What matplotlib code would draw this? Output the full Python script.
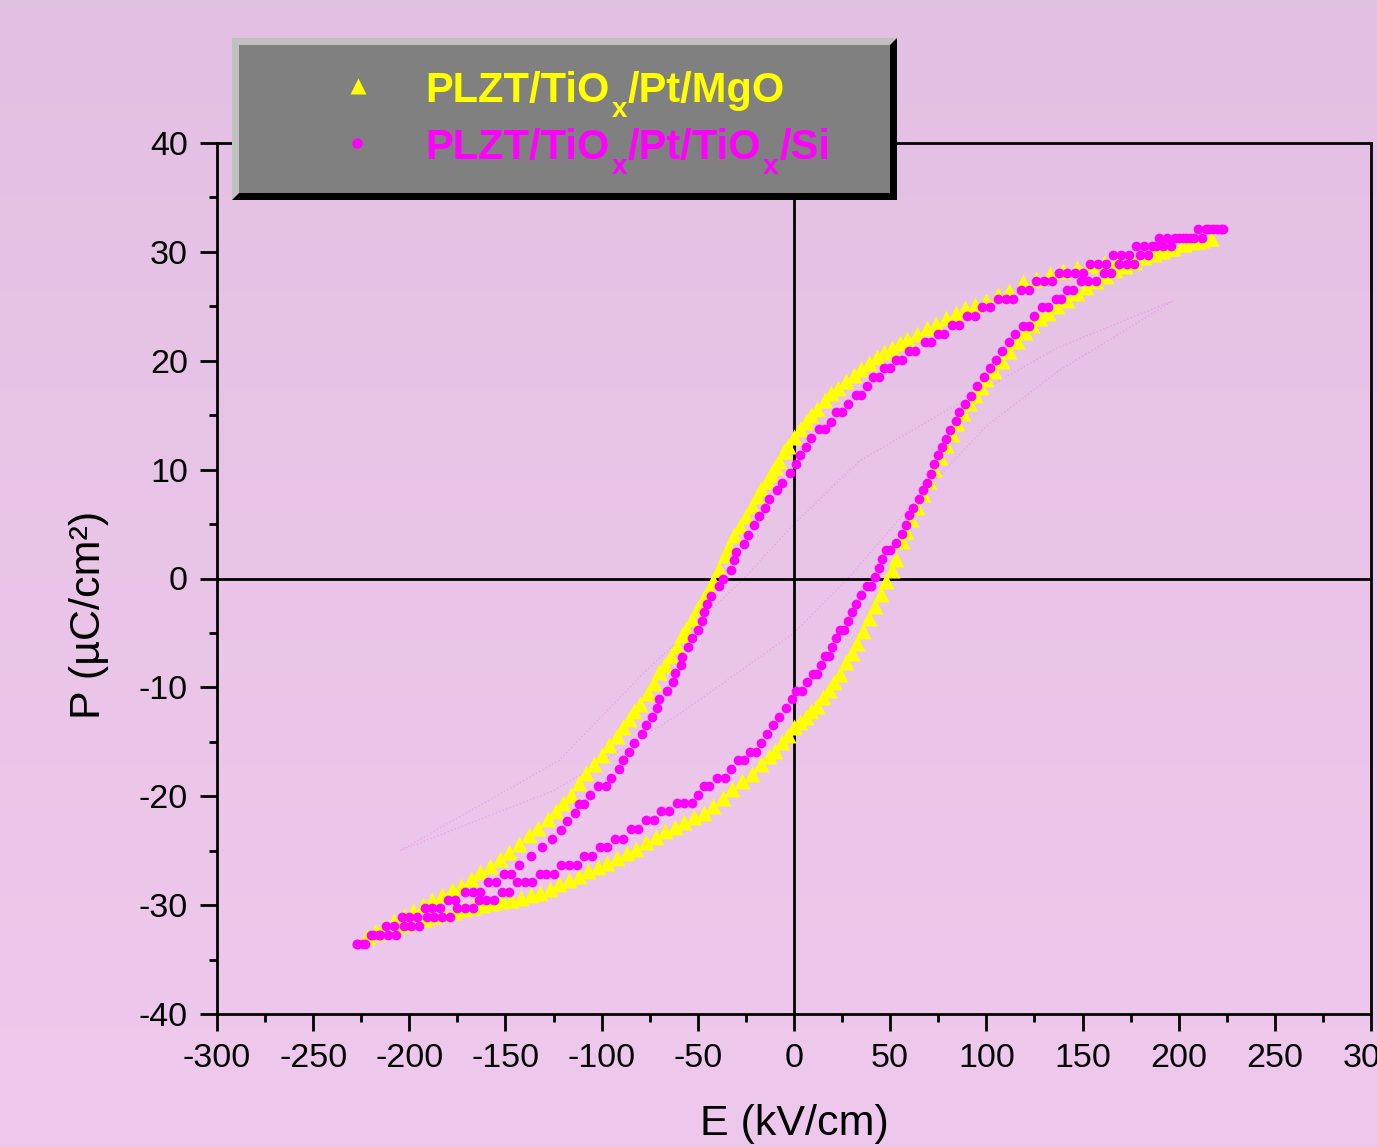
import numpy as np
import matplotlib
matplotlib.use('Agg')
import matplotlib.pyplot as plt
from matplotlib.patches import Polygon, Rectangle
from matplotlib.lines import Line2D

plt.rcParams['font.family'] = ['Liberation Sans', 'DejaVu Sans']
plt.rcParams['axes.unicode_minus'] = False

# PLZT/TiOx/Pt/MgO  (yellow triangles)
mgo_E_up = [-222, -217, -212, -207, -202, -197, -192, -187, -182, -177,
            -172, -167, -162, -157, -152, -147, -142, -137, -132, -127,
            -122, -117, -112, -107, -102, -97, -92, -87, -82, -77,
            -72, -67, -62, -57, -52, -47, -42, -37, -32, -27,
            -22, -17, -13, -10, -6, -3, 0, 3, 6, 9,
            12, 15, 18, 21, 24, 27, 30, 33, 36, 39,
            42, 45, 48, 51, 53, 56, 58, 61, 64, 67,
            70, 73, 76, 79, 82, 85, 88, 91, 94, 97,
            100, 104, 108, 112, 116, 120, 124, 128, 132, 137,
            142, 147, 152, 157, 162, 167, 172, 177, 182, 187,
            192, 197, 202, 207, 212, 217]
mgo_P_up = [-32.9, -32.6, -32.3, -32.0, -31.7, -31.5, -31.3, -31.0, -30.8, -30.6,
            -30.4, -30.2, -30.0, -29.8, -29.6, -29.5, -29.3, -29.1, -28.9, -28.5,
            -28.1, -27.7, -27.3, -26.9, -26.5, -26.1, -25.7, -25.2, -24.8, -24.2,
            -23.7, -23.2, -22.8, -22.4, -21.9, -21.5, -20.9, -20.2, -19.3, -18.6,
            -18.0, -17.0, -16.3, -15.8, -15.0, -14.4, -13.6, -13.2, -12.7, -12.2,
            -11.7, -10.9, -10.2, -9.5, -8.8, -7.7, -6.8, -5.9, -4.8, -3.6,
            -2.5, -1.4, -0.2, 0.8, 1.8, 3.4, 4.4, 5.5, 6.6, 7.8,
            9.0, 10.1, 11.2, 12.3, 13.3, 14.3, 15.2, 16.1, 16.9, 17.6,
            18.3, 19.1, 20.0, 20.9, 21.8, 22.6, 23.3, 23.9, 24.4, 25.0,
            25.6, 26.2, 26.8, 27.3, 27.8, 28.3, 28.7, 29.1, 29.5, 29.8,
            30.1, 30.4, 30.7, 30.9, 31.1, 31.3]
mgo_E_down = [217, 210, 203, 196, 189, 182, 175, 168, 161, 154,
              147, 140, 133, 126, 119, 112, 106, 100, 94, 89,
              84, 79, 74, 69, 64, 59, 55, 51, 47, 43,
              39, 35, 31, 27, 23, 19, 16, 12, 9, 6,
              3, 0, -3, -5, -8, -10, -12, -14, -17, -19,
              -22, -25, -28, -31, -34, -36, -39, -42, -44, -47,
              -50, -53, -56, -58, -61, -64, -67, -70, -73, -76,
              -80, -83, -86, -89, -92, -96, -100, -104, -108, -112,
              -116, -120, -124, -128, -133, -138, -143, -148, -153, -158,
              -163, -168, -173, -178, -183, -188, -193, -198, -203, -208,
              -213, -218, -222]
mgo_P_down = [31.3, 31.0, 30.7, 30.4, 30.1, 29.8, 29.5, 29.3, 29.0, 28.8,
              28.5, 28.2, 28.0, 27.5, 27.2, 26.4, 26.0, 25.5, 25.1, 24.8,
              24.4, 23.9, 23.4, 23.0, 22.5, 22.0, 21.6, 21.2, 20.8, 20.3,
              19.8, 19.2, 18.7, 18.1, 17.5, 17.0, 16.4, 15.6, 15.0, 14.4,
              13.7, 13.0, 12.2, 11.7, 10.8, 10.2, 9.6, 9.0, 8.2, 7.6,
              6.7, 5.7, 4.8, 4.0, 3.0, 2.2, 0.9, -0.2, -1.0, -1.8,
              -2.7, -3.7, -4.6, -5.2, -6.2, -7.1, -7.9, -8.6, -9.6, -10.5,
              -11.5, -12.2, -12.9, -13.6, -14.5, -15.3, -16.2, -17.0, -17.9, -18.8,
              -19.9, -20.6, -21.4, -22.1, -22.9, -23.6, -24.4, -25.1, -25.8, -26.4,
              -27.0, -27.6, -28.2, -28.6, -29.1, -29.5, -30.0, -30.5, -31.0, -31.5,
              -32.0, -32.5, -32.9]

# PLZT/TiOx/Pt/TiOx/Si  (magenta dots)
si_E_up = [-227, -223, -219, -215, -211, -207, -203, -199, -195, -191,
           -187, -183, -179, -175, -171, -167, -164, -160, -156, -152,
           -148, -144, -140, -136, -132, -129, -125, -121, -117, -113,
           -109, -105, -101, -97, -93, -89, -85, -81, -77, -73,
           -69, -65, -61, -57, -53, -50, -47, -44, -40, -36,
           -33, -29, -26, -23, -20, -17, -14, -11, -8, -4,
           -1, 1, 4, 7, 10, 12, 14, 16, 18, 20,
           22, 24, 26, 28, 30, 32, 35, 38, 40, 42,
           44, 46, 48, 50, 53, 56, 58, 60, 62, 65,
           67, 69, 71, 73, 75, 77, 79, 81, 84, 86,
           89, 92, 95, 99, 102, 105, 108, 112, 115, 119,
           122, 125, 129, 132, 136, 139, 142, 145, 149, 153,
           157, 161, 165, 169, 173, 177, 180, 184, 188, 192,
           196, 200, 204, 208, 212, 216, 220, 223]
si_P_up = [-33.6, -33.6, -32.7, -32.7, -32.7, -32.7, -31.9, -31.9, -31.9, -31.1,
           -31.1, -31.1, -31.1, -30.3, -30.3, -30.3, -29.5, -29.5, -29.5, -28.8,
           -28.8, -27.9, -27.9, -27.9, -27.1, -27.1, -27.1, -26.3, -26.3, -26.3,
           -25.5, -25.5, -24.7, -24.7, -23.9, -23.9, -23.0, -23.0, -22.2, -22.2,
           -21.4, -21.4, -20.6, -20.6, -20.6, -19.9, -19.1, -19.1, -18.3, -18.3,
           -17.5, -16.7, -16.7, -15.9, -15.9, -15.1, -14.3, -13.5, -12.7, -11.9,
           -11.1, -10.3, -10.3, -9.5, -8.8, -8.8, -7.9, -7.1, -7.1, -6.3,
           -5.5, -4.7, -4.7, -3.9, -3.1, -2.3, -1.5, -0.7, -0.7, 0.1,
           1.0, 1.8, 2.6, 2.6, 3.3, 4.1, 4.9, 5.8, 6.5, 7.3,
           8.1, 8.8, 9.6, 10.5, 11.3, 12.1, 12.8, 13.6, 14.5, 15.3,
           16.0, 16.8, 17.7, 18.5, 19.3, 20.1, 20.9, 21.7, 22.5, 23.2,
           23.2, 24.1, 24.9, 24.9, 25.7, 25.7, 26.5, 26.5, 27.3, 27.3,
           27.3, 28.1, 28.1, 28.9, 28.9, 28.9, 29.7, 29.7, 30.5, 30.5,
           30.5, 31.3, 31.3, 31.3, 31.3, 32.1, 32.1, 32.1]
si_E_down = [222, 218, 214, 210, 206, 202, 198, 194, 190, 186,
             182, 178, 174, 170, 166, 162, 158, 154, 150, 146,
             142, 138, 134, 130, 126, 122, 118, 114, 110, 106,
             102, 98, 94, 90, 86, 82, 78, 75, 71, 68,
             63, 60, 56, 53, 50, 47, 44, 41, 38, 35,
             32, 28, 25, 22, 19, 16, 13, 9, 6, 3,
             1, -2, -6, -9, -13, -15, -18, -21, -24, -26,
             -30, -31, -33, -37, -39, -43, -45, -47, -48, -50,
             -53, -55, -58, -59, -62, -63, -66, -70, -71, -74,
             -77, -79, -83, -86, -89, -91, -95, -98, -102, -106,
             -109, -112, -114, -118, -121, -126, -131, -137, -143, -147,
             -151, -155, -159, -163, -167, -171, -176, -180, -184, -188,
             -192, -196, -200, -204, -208, -212, -216, -220, -224, -227]
si_P_down = [32.1, 32.1, 32.1, 32.1, 31.3, 31.3, 31.3, 31.3, 31.3, 30.5,
             30.5, 30.5, 29.7, 29.7, 29.7, 28.9, 28.9, 28.9, 28.1, 28.1,
             28.1, 28.1, 27.3, 27.3, 27.3, 26.5, 26.5, 25.7, 25.7, 25.7,
             24.9, 24.9, 24.1, 24.1, 23.3, 23.3, 22.5, 22.5, 21.7, 21.7,
             20.9, 20.9, 20.1, 20.1, 19.3, 19.3, 18.5, 18.5, 17.7, 16.9,
             16.9, 16.0, 15.3, 15.3, 14.4, 13.7, 13.7, 12.9, 12.1, 11.3,
             10.5, 9.7, 8.8, 8.1, 7.3, 6.5, 5.7, 4.9, 4.0, 3.2,
             2.4, 1.7, 0.8, 0.0, -0.7, -1.6, -2.3, -3.1, -3.9, -4.7,
             -5.5, -6.3, -7.2, -7.9, -8.7, -9.5, -10.3, -11.1, -11.9, -12.7,
             -13.5, -14.3, -15.1, -15.9, -16.7, -17.5, -18.3, -19.1, -19.1, -19.9,
             -20.7, -20.7, -21.5, -22.3, -23.1, -23.9, -24.7, -25.5, -26.3, -27.1,
             -27.1, -27.9, -27.9, -28.8, -28.8, -28.8, -29.5, -29.5, -30.3, -30.3,
             -30.3, -31.1, -31.1, -31.1, -31.9, -31.9, -32.7, -32.7, -33.6, -33.6]

# faint dotted inner trace
faint_E_up = [-205, -125, -60, 0, 28, 60, 100, 137, 197]
faint_P_up = [-25.0, -19.5, -12.5, -5.0, 0.0, 6.5, 14.0, 19.0, 25.5]
faint_E_down = [197, 137, 80, 34, 0, -26, -80, -122, -205]
faint_P_down = [25.5, 21.2, 15.5, 10.8, 5.0, 0.0, -9.0, -16.7, -25.0]

# legend text pieces: (text, is_subscript)
label_mgo = [('PLZT/TiO', False), ('x', True), ('/Pt/MgO', False)]
label_si = [('PLZT/TiO', False), ('x', True), ('/Pt/TiO', False), ('x', True), ('/Si', False)]

W, H = 1377, 1147
fig = plt.figure(figsize=(W / 100, H / 100), dpi=100)

def fx(px):
    return px / W

def fy(py):
    return 1 - py / H

# background gradient
bg = fig.add_axes([0, 0, 1, 1], zorder=-10)
c_top = np.array([0.890, 0.753, 0.890])
c_bot = np.array([0.937, 0.788, 0.929])
t = np.linspace(0, 1, 256)[:, None]
grad = c_top * (1 - t) + c_bot * t
bg.imshow(grad[:, None, :], aspect='auto', extent=[0, 1, 0, 1])
bg.axis('off')

ax = fig.add_axes([fx(217), fy(1014), fx(1371) - fx(217), fy(143) - fy(1014)])
ax.set_facecolor('none')

ax.plot(faint_E_up, faint_P_up, ':', color='#ff00ff', lw=1.0, alpha=0.18, zorder=1)
ax.plot(faint_E_down, faint_P_down, ':', color='#ff00ff', lw=1.0, alpha=0.18, zorder=1)
ax.axhline(0, color='black', lw=2, zorder=1)
ax.axvline(0, color='black', lw=2, zorder=1)

ax.plot(mgo_E_up, mgo_P_up, '^', color='#ffff00', ms=11, mec='none', zorder=3)
ax.plot(mgo_E_down, mgo_P_down, '^', color='#ffff00', ms=11, mec='none', zorder=3)
ax.plot(si_E_up, si_P_up, 'o', color='#ff00ff', ms=7, mec='none', zorder=4)
ax.plot(si_E_down, si_P_down, 'o', color='#ff00ff', ms=7, mec='none', zorder=4)

ax.set_xlim(-300, 300)
ax.set_ylim(-40, 40)
ax.set_xticks(np.arange(-300, 301, 50))
ax.set_xticks(np.arange(-300, 301, 25), minor=True)
ax.set_yticks(np.arange(-40, 41, 10))
ax.set_yticks(np.arange(-40, 41, 5), minor=True)
ax.tick_params(which='both', direction='out', top=False, right=False, width=2,
               labelsize=24.5, pad=9, colors='black')
ax.tick_params(which='major', length=12)
ax.tick_params(which='minor', length=6)
for s in ax.spines.values():
    s.set_linewidth(2)

ax.set_xlabel('E (kV/cm)', fontsize=31)
ax.set_ylabel('P (\u00b5C/cm\u00b2)', fontsize=31)
ax.xaxis.set_label_coords(0.5, -0.103)
ax.yaxis.set_label_coords(-0.094, 0.458)

# legend box with bevel
x0, x1, y0, y1, b = 232, 897, 38, 200, 7
light = [(x0, y0), (x1, y0), (x1 - b, y0 + b), (x0 + b, y0 + b), (x0 + b, y1 - b), (x0, y1)]
dark = [(x1, y0), (x1, y1), (x0, y1), (x0 + b, y1 - b), (x1 - b, y1 - b), (x1 - b, y0 + b)]
fig.add_artist(Polygon([(fx(a), fy(c)) for a, c in light], closed=True, transform=fig.transFigure,
                       facecolor='#c0c0c0', edgecolor='none', zorder=5))
fig.add_artist(Polygon([(fx(a), fy(c)) for a, c in dark], closed=True, transform=fig.transFigure,
                       facecolor='black', edgecolor='none', zorder=5))
fig.add_artist(Rectangle((fx(x0 + b), fy(y1 - b)), fx(x1 - b) - fx(x0 + b), fy(y0 + b) - fy(y1 - b),
                         transform=fig.transFigure, facecolor='#808080', edgecolor='none', zorder=5))

fig.add_artist(Line2D([fx(358)], [fy(86)], marker='^', color='#ffff00', ms=11, mec='none',
                      transform=fig.transFigure, zorder=6))
fig.add_artist(Line2D([fx(357)], [fy(143)], marker='o', color='#ff00ff', ms=7.5, mec='none',
                      transform=fig.transFigure, zorder=6))

renderer = fig.canvas.get_renderer()

def draw_label(pieces, xpx, base_py, color):
    x = xpx
    for txt, sub in pieces:
        if sub:
            tt = fig.text(fx(x + 2), fy(base_py + 15), txt, color=color, fontsize=20,
                          fontweight='bold', ha='left', va='baseline', zorder=6)
        else:
            tt = fig.text(fx(x), fy(base_py), txt, color=color, fontsize=30,
                          fontweight='bold', ha='left', va='baseline', zorder=6)
        bb = tt.get_window_extent(renderer)
        x = bb.x1 + (1 if sub else 0)

draw_label(label_mgo, 425, 102, '#ffff00')
draw_label(label_si, 425, 159, '#ff00ff')

fig.savefig('out.png', dpi=100)
